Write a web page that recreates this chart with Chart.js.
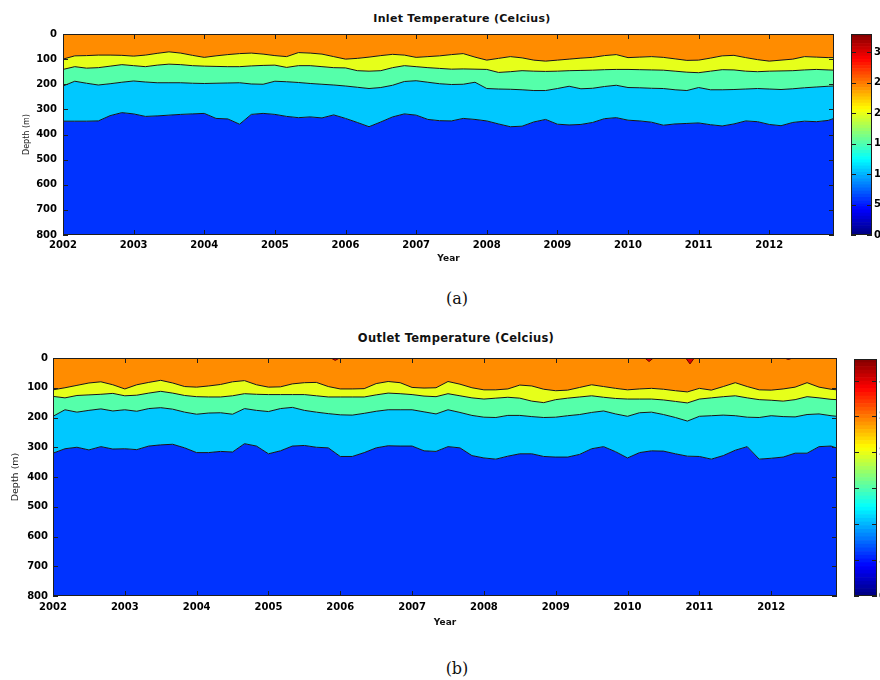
<!DOCTYPE html>
<html>
<head>
<meta charset="utf-8">
<script src="https://cdn.jsdelivr.net/npm/chart.js@4/dist/chart.umd.min.js"></script>
<style>
  html, body { margin: 0; padding: 0; background: #fff; width: 880px; height: 680px; overflow: hidden; position: relative; }
  canvas { position: absolute; }
  .ttl { position: absolute; width: 300px; text-align: center; font: bold 11px "DejaVu Sans", sans-serif; line-height: 14px; color: #111; letter-spacing: 0.3px; }
  .cap { position: absolute; width: 60px; text-align: center; font: 16px "DejaVu Serif", serif; line-height: 20px; color: #111; }
</style>
</head>
<body>
<div class="ttl" style="left:312px; top:12px;">Inlet Temperature (Celcius)</div>
<canvas id="inlet" width="880" height="280" style="left:0; top:0;"></canvas>
<canvas id="inletBar" width="60" height="280" style="left:851px; top:0;"></canvas>
<div class="cap" style="left:427px; top:289px;">(a)</div>

<div class="ttl" style="left:306px; top:331px; font-size:11.5px;">Outlet Temperature (Celcius)</div>
<canvas id="outlet" width="880" height="320" style="left:0; top:320px;"></canvas>
<canvas id="outletBar" width="60" height="320" style="left:854px; top:320px;"></canvas>
<div class="cap" style="left:427px; top:659px;">(b)</div>

<script>
// time axis: every second month from Jan 2002, plus Dec 2012
const times = [];
for (let m = 0; m < 132; m += 2) times.push(2002 + m / 12);
times.push(2002 + 131 / 12);
const xEnd = 2002 + 131 / 12;

const yearTicks = [2002, 2003, 2004, 2005, 2006, 2007, 2008, 2009, 2010, 2011, 2012];
const depthTicks = [0, 100, 200, 300, 400, 500, 600, 700, 800];
const tempTicks = [0, 5, 10, 15, 20, 25, 30];

// contour depths (m) between temperature bands, inlet
const inletC1 = [
  100, 87, 86, 84, 84, 85,   88, 84, 77, 71, 76, 85,   93, 87, 82, 78, 76, 80,
  86, 90, 74, 76, 80, 90,    100, 97, 92, 86, 81, 84,  93, 90, 87, 82, 78, 92,
  104, 97, 90, 95, 104, 108, 104, 100, 96, 93, 86, 82, 94, 92, 90, 93, 99, 105,
  104, 96, 87, 85, 94, 102,  108, 104, 100, 90, 92, 94, 94
];
const inletC2 = [
  141, 130, 136, 134, 128, 122, 126, 130, 124, 120, 122, 126, 128, 129, 130, 130, 127, 125,
  124, 133, 126, 126, 130, 134, 135, 146, 148, 146, 134, 126, 130, 134, 137, 140, 139, 140,
  141, 153, 150, 146, 148, 149, 148, 146, 145, 144, 142, 141, 141, 142, 143, 144, 148, 152,
  154, 148, 142, 143, 148, 150, 148, 147, 146, 143, 141, 143, 144
];
const inletC3 = [
  207, 188, 196, 203, 198, 192, 187, 191, 194, 194, 194, 196, 197, 196, 195, 194, 199, 200,
  188, 190, 193, 197, 200, 203, 207, 212, 217, 213, 204, 189, 186, 192, 198, 201, 200, 192,
  217, 219, 220, 222, 225, 225, 217, 208, 218, 216, 209, 204, 213, 214, 216, 217, 222, 225,
  213, 222, 222, 221, 219, 217, 219, 221, 218, 214, 211, 208, 207
];
const inletC4 = [
  347, 347, 347, 346, 325, 313, 318, 328, 326, 323, 320, 318, 316, 336, 338, 359, 320, 316,
  320, 328, 333, 330, 334, 322, 336, 352, 369, 350, 330, 318, 323, 340, 345, 346, 336, 340,
  346, 358, 369, 367, 350, 340, 359, 362, 360, 352, 337, 333, 343, 346, 351, 363, 358, 356,
  354, 361, 366, 358, 346, 349, 360, 365, 352, 347, 349, 344, 336
];

// outlet
const outletC1 = [
  107, 100, 92, 84, 80, 90,   104, 90, 82, 75, 84, 96,   98, 94, 89, 80, 76, 90,
  98, 97, 87, 83, 82, 96,     104, 104, 103, 86, 79, 83, 99, 101, 100, 79, 88, 100,
  107, 107, 104, 91, 94, 105, 110, 108, 99, 90, 96, 102, 107, 104, 102, 105, 110, 114,
  102, 108, 96, 83, 96, 107,  108, 104, 98, 83, 98, 105, 107
];
const outletC2 = [
  129, 134, 126, 124, 122, 119, 127, 125, 118, 112, 118, 126, 130, 131, 131, 127, 120, 122,
  123, 123, 123, 123, 127, 131, 131, 131, 131, 124, 118, 120, 123, 128, 130, 120, 127, 134,
  138, 135, 132, 135, 145, 150, 140, 135, 131, 127, 132, 136, 138, 138, 138, 141, 146, 151,
  138, 134, 130, 127, 134, 140, 142, 145, 140, 130, 134, 139, 140
];
const outletC3 = [
  196, 174, 182, 176, 171, 178, 174, 179, 170, 167, 172, 182, 189, 185, 184, 189, 170, 176,
  180, 170, 166, 176, 182, 187, 191, 192, 186, 179, 174, 174, 174, 181, 188, 174, 183, 193,
  199, 200, 193, 193, 197, 200, 199, 194, 190, 183, 178, 188, 196, 184, 182, 190, 200, 212,
  196, 194, 192, 194, 199, 200, 194, 197, 198, 190, 188, 194, 196
];
const outletC4 = [
  320, 305, 300, 309, 298, 306, 305, 308, 296, 292, 290, 302, 318, 318, 314, 316, 288, 296,
  322, 312, 296, 294, 300, 302, 331, 331, 318, 302, 295, 296, 296, 312, 314, 298, 302, 328,
  336, 340, 330, 322, 322, 331, 333, 333, 324, 305, 298, 315, 336, 318, 312, 313, 322, 330,
  331, 340, 328, 310, 298, 340, 337, 333, 320, 320, 298, 296, 303
];

// small warm patches at the surface of the outlet
const hotYears = [2005.93, 2010.30, 2010.87, 2012.24];
const hotDepths = [8, 12, 20, 5];

const bandColors = ['#FF8C00', '#E6FF1A', '#55FFAA', '#00C8FF', '#0033FF'];
const FONT = '"DejaVu Sans", sans-serif';

function pts(arr) {
  return times.map((t, i) => ({ x: t, y: arr[i] }));
}

function line(arr, color, fill, bw) {
  return {
    data: pts(arr), backgroundColor: color, borderColor: '#151515',
    borderWidth: bw, fill: fill, pointRadius: 0, tension: 0
  };
}

// MATLAB-like frame with ticks pointing inward
const insideTicks = {
  id: 'insideTicks',
  afterDatasetsDraw(chart) {
    const { ctx, chartArea: a } = chart;
    const len = 5;
    ctx.save();
    ctx.strokeStyle = '#1e1e1e';
    ctx.lineWidth = 1;
    ctx.beginPath();
    const x = chart.scales.x;
    if (x && x.options.display) {
      x.ticks.forEach(t => {
        const px = Math.round(x.getPixelForValue(t.value)) + 0.5;
        ctx.moveTo(px, a.top); ctx.lineTo(px, a.top + len);
        ctx.moveTo(px, a.bottom); ctx.lineTo(px, a.bottom - len);
      });
    }
    const y = chart.scales.y;
    y.ticks.forEach(t => {
      const py = Math.round(y.getPixelForValue(t.value)) + 0.5;
      ctx.moveTo(a.left, py); ctx.lineTo(a.left + len, py);
      ctx.moveTo(a.right, py); ctx.lineTo(a.right - len, py);
    });
    ctx.stroke();
    ctx.strokeRect(a.left + 0.5, a.top + 0.5, a.right - a.left - 1, a.bottom - a.top - 1);
    ctx.restore();
  }
};

function makePanel(id, c, hot, lay) {
  const datasets = [];
  if (hot) {
    const data = [];
    hotYears.forEach((yr, i) => {
      data.push({ x: yr - 0.06, y: 0 }, { x: yr, y: hotDepths[i] }, { x: yr + 0.06, y: 0 }, { x: yr + 0.07, y: null });
    });
    datasets.push({ data, backgroundColor: '#E00000', borderColor: '#6a0000', borderWidth: 1,
      fill: { value: 0 }, pointRadius: 0, tension: 0, spanGaps: false });
  }
  datasets.push(line(c[0], bandColors[0], { value: 0 }, 1));
  datasets.push(line(c[1], bandColors[1], '-1', 1));
  datasets.push(line(c[2], bandColors[2], '-1', 1));
  datasets.push(line(c[3], bandColors[3], '-1', 1));
  datasets.push(line(c[3], bandColors[4], { value: 800 }, 0));

  new Chart(document.getElementById(id), {
    type: 'line',
    data: { datasets },
    options: {
      responsive: false,
      animation: false,
      layout: { padding: { top: lay.top, right: lay.right, left: 0, bottom: 0 } },
      plugins: {
        legend: { display: false },
        tooltip: { enabled: false },
        filler: { drawTime: 'beforeDatasetsDraw' }
      },
      scales: {
        x: {
          type: 'linear', min: 2002, max: xEnd,
          afterBuildTicks: s => { s.ticks = yearTicks.map(v => ({ value: v })); },
          ticks: { callback: v => String(v), autoSkip: false, maxRotation: 0,
            font: { family: FONT, size: 10, weight: 'bold' }, color: '#000', padding: lay.xPad },
          grid: { display: false, drawTicks: false },
          border: { display: false },
          title: { display: true, text: 'Year', color: '#111',
            font: { family: FONT, size: 9, weight: 'bold' }, padding: { top: 0, bottom: lay.yearPad } },
          afterFit: s => { s.height = lay.xH; }
        },
        y: {
          type: 'linear', min: 0, max: 800, reverse: true,
          afterBuildTicks: s => { s.ticks = depthTicks.map(v => ({ value: v })); },
          ticks: { font: { family: FONT, size: 10, weight: 'bold' }, color: '#000', padding: lay.yPad },
          grid: { display: false, drawTicks: false },
          border: { display: false },
          title: { display: true, text: 'Depth (m)', color: '#222',
            font: { family: FONT, size: lay.depthSize }, padding: { top: lay.depthPad, bottom: 0 } },
          afterFit: s => { s.width = lay.yW; }
        }
      }
    },
    plugins: [insideTicks]
  });
}

// jet colour map for the colour bars
function jet(t) {
  const c = v => Math.round(255 * Math.max(0, Math.min(1, v)));
  return `rgb(${c(1.5 - Math.abs(4 * t - 3))},${c(1.5 - Math.abs(4 * t - 2))},${c(1.5 - Math.abs(4 * t - 1))})`;
}
const tempMax = 33;
const nLevels = 64;

function makeColorbar(id, lay) {
  const datasets = [];
  for (let i = 0; i < nLevels; i++) {
    datasets.push({ data: [tempMax / nLevels], backgroundColor: jet((i + 0.5) / nLevels),
      borderWidth: 0, barPercentage: 1, categoryPercentage: 1 });
  }
  new Chart(document.getElementById(id), {
    type: 'bar',
    data: { labels: [''], datasets },
    options: {
      responsive: false,
      animation: false,
      layout: { padding: { top: lay.top, bottom: lay.bottom, left: 0, right: 0 } },
      plugins: { legend: { display: false }, tooltip: { enabled: false } },
      scales: {
        x: { display: false, stacked: true },
        y: {
          stacked: true, position: 'right', min: 0, max: tempMax,
          afterBuildTicks: s => { s.ticks = tempTicks.map(v => ({ value: v })); },
          ticks: { font: { family: FONT, size: 10, weight: 'bold' }, color: '#000', padding: 2 },
          grid: { display: false, drawTicks: false },
          border: { display: false },
          afterFit: s => { s.width = 60 - lay.barW; }
        }
      }
    },
    plugins: [insideTicks]
  });
}

makePanel('inlet', [inletC1, inletC2, inletC3, inletC4], false,
  { top: 34, right: 46, xH: 45, xPad: 4, yearPad: 16, yPad: 6, yW: 63, depthSize: 8, depthPad: 22 });
makeColorbar('inletBar', { top: 34, bottom: 45, barW: 21 });

makePanel('outlet', [outletC1, outletC2, outletC3, outletC4], true,
  { top: 38, right: 43, xH: 44, xPad: 5, yearPad: 12, yPad: 5, yW: 53, depthSize: 9.5, depthPad: 10 });
makeColorbar('outletBar', { top: 39, bottom: 44, barW: 23 });
</script>
</body>
</html>
